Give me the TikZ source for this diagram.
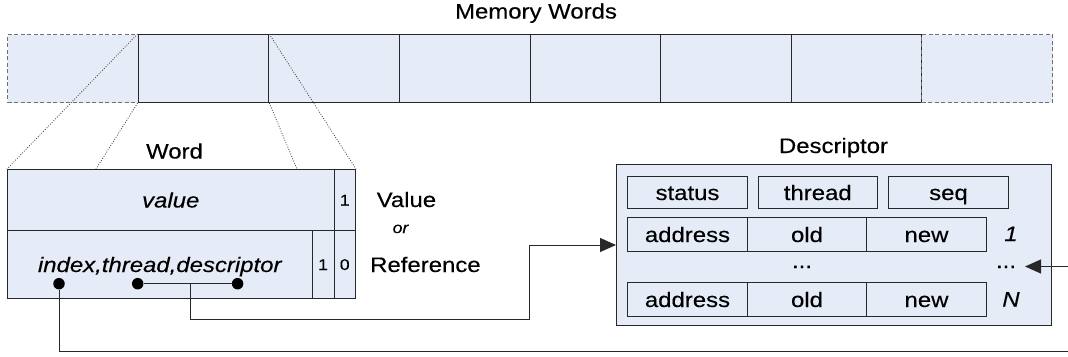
\documentclass[tikz,border=0pt]{standalone}
\usepackage{fontspec}
\setmainfont{Liberation Sans}[FakeStretch=1.14, FakeBold=0.3]
\usetikzlibrary{arrows.meta}
\definecolor{cellfill}{HTML}{E6ECF7}
\definecolor{linec}{HTML}{282828}
\definecolor{dashc}{HTML}{707070}
\begin{document}
\begin{tikzpicture}[x=1pt,y=-1pt,
  cell/.style={draw=linec, fill=cellfill, line width=1pt, rectangle, inner sep=0pt, anchor=north west},
  ghost/.style={cell, draw=dashc, dash pattern=on 4pt off 2.5pt},
  big/.style={font=\fontsize{21}{25}\selectfont, text height=15pt, text depth=0pt},
  small/.style={font=\fontsize{15.5}{18}\selectfont, text height=11pt, text depth=0pt, inner sep=0pt},
  lbl/.style={font=\fontsize{21}{25}\selectfont, anchor=base, inner sep=0pt},
  proj/.style={draw=black!75, line width=0.8pt, dash pattern=on 0.9pt off 1.6pt},
  conn/.style={draw=linec, line width=1pt},
  tip/.style={-{Triangle[length=16pt,width=14pt]}},
  dot/.style={circle, fill=black, inner sep=0pt, minimum size=11.5pt},
  mem/.style={minimum width=130.625pt, minimum height=68pt}
]
\useasboundingbox (0,0) rectangle (1068,356);
\clip (0,0) rectangle (1068,356);

% memory words
\node[lbl] (mwl) at (536,18.5) {Memory Words};
\node[ghost, mem] (m1) at (7,34) {};
\node[cell, mem] (m2) at (137.625,34) {};
\node[cell, mem] (m3) at (268.25,34) {};
\node[cell, mem] (m4) at (398.875,34) {};
\node[cell, mem] (m5) at (529.5,34) {};
\node[cell, mem] (m6) at (660.125,34) {};
\node[cell, mem] (m7) at (790.75,34) {};
\node[ghost, mem] (m8) at (921.375,34) {};

% word
\node[lbl] (wl) at (174.5,158.5) {Word};
\node[cell, big, minimum width=326.5pt, minimum height=61pt] (wval) at (7,169) {\itshape value};
\node[cell, small, minimum width=21.5pt, minimum height=61pt] (wtop) at (333.5,169) {1};
\node[cell, big, minimum width=304.5pt, minimum height=68pt] (wref) at (7,230) {\itshape index,thread,descriptor};
\node[cell, small, minimum width=22pt, minimum height=68pt] (wmid) at (311.5,230) {1};
\node[cell, small, minimum width=21.5pt, minimum height=68pt] (wbot) at (333.5,230) {0};

% projection lines
\coordinate (w2) at (96,169);
\coordinate (w3) at (297,169);
\draw[proj] (m2.north west) -- (wval.north west);
\draw[proj] (m2.south west) -- (w2);
\draw[proj] (m2.south east) -- (w3);
\draw[proj] (m2.north east) -- (wtop.north east);

% side labels
\node[lbl, anchor=base west] (vl) at (376.5,207) {Value};
\node[font=\fontsize{15.5}{18}\selectfont\itshape, anchor=base, inner sep=0pt] (orl) at (400.5,233) {or};
\node[lbl, anchor=base west] (rl) at (370,272) {Reference};

% descriptor
\node[lbl] (dl) at (833.5,153) {Descriptor};
\node[cell, minimum width=435pt, minimum height=161pt] (desc) at (616,164) {};
\node[cell, big, minimum width=120pt, minimum height=32pt] (st) at (627,176) {status};
\node[cell, big, minimum width=119.5pt, minimum height=32pt] (th) at (757.5,176) {thread};
\node[cell, big, minimum width=120pt, minimum height=32pt] (sq) at (888,176) {seq};
\node[cell, big, minimum width=120pt, minimum height=34pt] (a1) at (627,217) {address};
\node[cell, big, minimum width=119pt, minimum height=34pt] (o1) at (747,217) {old};
\node[cell, big, minimum width=120pt, minimum height=34pt] (n1) at (866,217) {new};
\node[cell, big, minimum width=120pt, minimum height=34pt] (aN) at (627,282) {address};
\node[cell, big, minimum width=119pt, minimum height=34pt] (oN) at (747,282) {old};
\node[cell, big, minimum width=120pt, minimum height=34pt] (nN) at (866,282) {new};
\node[lbl] (ell) at (802,268) {...};
\node[lbl] (ellr) at (1006,268) {...};
\node[lbl] (i1) at (1011,241) {\itshape 1};
\node[lbl] (iN) at (1011,306.5) {\itshape N};

% connectors
\coordinate (c1) at (190,283.7);
\coordinate (rin) at (1025,266.5);
\coordinate (far) at (1085,351.5);
\node[dot] (d1) at (59,283.7) {};
\node[dot] (d2) at (137.7,283.7) {};
\node[dot] (d3) at (237.6,283.7) {};
\draw[conn] (d2) -- (d3);
\draw[conn, tip] (c1) |- (529,319.5) |- (desc.west);
\draw[conn, tip] (d1) |- (far) |- (rin);
\end{tikzpicture}
\end{document}
